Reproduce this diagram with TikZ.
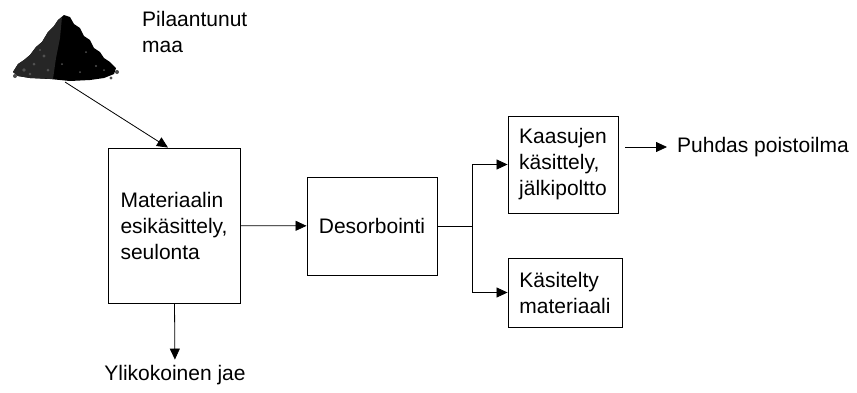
\documentclass[tikz,border=0pt]{standalone}
\usepackage{fontspec}
\setmainfont{Liberation Sans}
\usepackage{tikz}
\usetikzlibrary{arrows.meta}
\tikzset{flow/.style={-{Triangle[length=11pt,width=10pt]},line width=0.8pt},
 unit/.style={draw,line width=0.9pt,align=left,inner sep=0pt},
 every node/.style={font=\fontsize{21}{26}\selectfont}}

\begin{document}
\begin{tikzpicture}[x=1pt,y=-1pt]
\useasboundingbox (0,0) rectangle (857,392);
% soil heap
\fill[black] (13,72) -- (18,64) -- (24,60) -- (30,55) -- (36,47) -- (42,42) -- (48,32) -- (54,26)
 -- (58,20) -- (64,15) -- (70,17) -- (74,24) -- (80,28) -- (84,36) -- (90,40) -- (94,48)
 -- (100,52) -- (104,58) -- (110,62) -- (116,68) -- (114,74) -- (104,78) -- (90,80)
 -- (70,81) -- (50,79) -- (30,78) -- (18,76) -- cycle;
\fill[black!85] (13,72) -- (18,64) -- (24,60) -- (30,55) -- (36,47) -- (42,42) -- (48,32)
 -- (54,26) -- (58,20) -- (62,17) -- (60,38) -- (56,58) -- (53,79) -- (30,78) -- (18,76) -- cycle;
\foreach \x/\y/\r in {24/70/1.8,34/64/1.5,44/56/1.6,30/74/1.4,48/70/1.5,40/50/1.2,
 62/64/1,86/52/1,96/66/1.1,80/72/1,104/70/1}
 \fill[black!68] (\x,\y) circle (\r);
\foreach \x/\y/\r in {15/76/2,117/72/2,111/78/1.6}
 \fill[black!70] (\x,\y) circle (\r);
\coordinate (heap) at (65,82);
\node[anchor=north west,align=left,inner sep=0pt] (soil) at (142,11.5) {Pilaantunut\\maa};

\node[unit,minimum width=132,minimum height=155] (prep) at (174,225.5) {Materiaalin\\esikäsittely,\\seulonta};
\node[unit,minimum width=130,minimum height=98] (desorb) at (372,226) {Desorbointi};
\node[unit,minimum width=110,minimum height=97] (gas) at (563,164.5) {Kaasujen\\käsittely,\\jälkipoltto};
\node[unit,minimum width=114,minimum height=69] (treated) at (565,292.5) {Käsitelty\\materiaali};
\node[anchor=west,inner sep=2pt] (clean) at (675,147) {Puhdas poistoilma};
\node[anchor=base,inner sep=5pt] (oversize) at (175,380) {Ylikokoinen jae};
\coordinate (split) at (472,226);

\draw[flow] (heap) -- ([xshift=-6pt]prep.north);
\draw[flow] (prep) -- (desorb);
\draw[line width=0.8pt] (desorb) -- (split);
\draw[flow] (split) |- (gas);
\draw[flow] (split) |- (treated);
\draw[flow,shorten <=7pt,shorten >=8pt] (gas.east |- clean.west) -- (clean.west);
\draw[flow] (prep) -- (oversize);
\end{tikzpicture}
\end{document}
